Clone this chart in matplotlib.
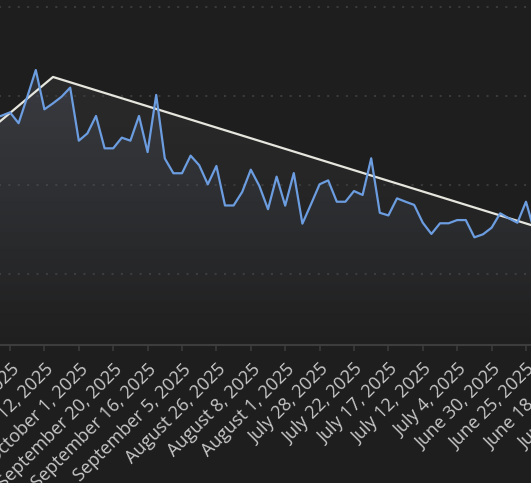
import numpy as np
import matplotlib.pyplot as plt

plt.rcParams['font.family'] = ['Open Sans', 'DejaVu Sans']

# blue series, one value per category index (index 0 = first labelled date)
blue_idx = list(range(-2, 63))
blue_vals = [1.876, 1.889, 1.908, 1.847, 1.994, 2.146, 1.925, 1.959, 1.996, 2.047,
             1.749, 1.790, 1.888, 1.706, 1.706, 1.766, 1.749, 1.888, 1.685, 2.006,
             1.649, 1.566, 1.566, 1.665, 1.611, 1.504, 1.607, 1.385, 1.385, 1.461,
             1.586, 1.494, 1.364, 1.547, 1.384, 1.567, 1.283, 1.392, 1.504, 1.526,
             1.406, 1.406, 1.466, 1.444, 1.650, 1.344, 1.329, 1.425, 1.406, 1.388,
             1.288, 1.225, 1.285, 1.285, 1.303, 1.303, 1.206, 1.223, 1.260, 1.341,
             1.313, 1.288, 1.406, 1.236, 1.275]

# white trend series, only a few points
white_idx = [-3, 5, 64]
white_vals = [1.783, 2.107, 1.224]

tick_idx = list(range(0, 72, 4))
tick_labels = ["October 22, 2025", "October 12, 2025", "October 1, 2025",
               "September 20, 2025", "September 16, 2025", "September 5, 2025",
               "August 26, 2025", "August 8, 2025", "August 1, 2025",
               "July 28, 2025", "July 22, 2025", "July 17, 2025", "July 12, 2025",
               "July 4, 2025", "June 30, 2025", "June 25, 2025", "June 18, 2025",
               "June 12, 2025"]

bg = "#1e1e1e"
W, H = 531, 483

def px_to_idx(px):
    return (px - 10) / 8.6

def py_to_val(py):
    return 1 + (274 - py) / 178

ymin, ymax = py_to_val(345), py_to_val(-20)

fig = plt.figure(figsize=(W / 100, H / 100), dpi=100)
fig.patch.set_facecolor(bg)
# axes is wider than the picture, the chart is a crop
ax = fig.add_axes([-60 / W, (H - 345) / H, 680 / W, 365 / H])
ax.set_facecolor(bg)


def gradient_fill(x, y, rgb, a_top, a_bot, z):
    poly = ax.fill_between(x, y, ymin, facecolor='none', edgecolor='none')
    grad = np.zeros((200, 1, 4))
    grad[..., :3] = rgb
    grad[:, 0, 3] = np.linspace(a_top, a_bot, 200)
    im = ax.imshow(grad, aspect='auto', origin='upper', zorder=z,
                   extent=[min(x), max(x), ymin, max(y)])
    im.set_clip_path(poly.get_paths()[0], transform=ax.transData)


gradient_fill(white_idx, white_vals, (0.8, 0.8, 0.8), 0.07, 0.01, 1)
gradient_fill(blue_idx, blue_vals, (0.42, 0.46, 0.55), 0.24, 0.0, 2)

ax.plot(white_idx, white_vals, color="#e6e6de", lw=1.6, zorder=4)
ax.plot(blue_idx, blue_vals, color="#6c9de0", lw=1.6, zorder=5)

ax.set_xlim(px_to_idx(-60), px_to_idx(620))
ax.set_ylim(ymin, ymax)

ax.set_yticks([1.0, 1.5, 2.0, 2.5])
ax.yaxis.grid(True, color="#3a3a3a", lw=1.5, dashes=(1, 3.5))
ax.tick_params(axis='y', left=False, labelleft=False)

ax.set_xticks(tick_idx)
ax.set_xticklabels(tick_labels, rotation=45, ha='right', rotation_mode='anchor',
                   fontsize=13, color="#c8c8c8")
ax.tick_params(axis='x', color="#3d3d3d", length=4, width=1.1, pad=7)

for s in ['left', 'top', 'right']:
    ax.spines[s].set_visible(False)
ax.spines['bottom'].set_color("#3d3d3d")
ax.spines['bottom'].set_linewidth(1.5)

fig.savefig("out.png", dpi=100, facecolor=bg)
